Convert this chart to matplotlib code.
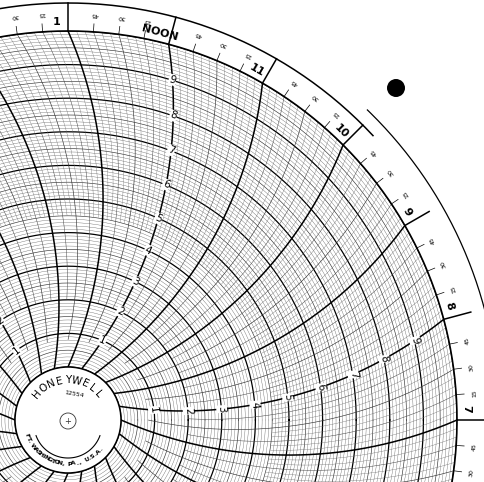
import numpy as np
import matplotlib.pyplot as plt
from matplotlib.path import Path
from matplotlib.patches import PathPatch

# ---- data ----
hour_labels = {7: '7', 8: '8', 9: '9', 10: '10', 11: '11', 12: 'NOON', 13: '1', 14: '2'}
quarter_labels = ['15', '30', '45']
value_labels = [1, 2, 3, 4, 5, 6, 7, 8, 9]
value_label_hours = [8, 12, 16, 20, 24]
hub_top_text = 'HONEYWELL'
hub_number = '12554'
hub_bottom_text = 'FT. WASHINGTON, PA., U.S.A.'

# ---- layout ----
CX, CY = 68, 420
R0, R = 53, 389
RA = 420.0

fig = plt.figure(figsize=(4.85, 4.82), dpi=100)
ax = fig.add_axes([0, 0, 1, 1])
ax.set_xlim(0, 485); ax.set_ylim(482, 0); ax.axis('off')

def rad(v):
    return R0 + (R - R0) * v / 10.0

def xy(r, phi_deg):
    p = np.radians(phi_deg)
    return CX + r * np.cos(p), CY - r * np.sin(p)

def arc_pts(theta):
    t = np.radians(theta)
    A = np.array([R0 * np.cos(t), R0 * np.sin(t)])
    P = np.array([R * np.cos(t), R * np.sin(t)])
    L = R - R0
    u = (P - A) / L
    n = np.array([-u[1], u[0]])
    C = (A + P) / 2 + n * np.sqrt(RA**2 - (L / 2)**2)
    a1 = np.arctan2(*(A - C)[::-1]); a2 = np.arctan2(*(P - C)[::-1])
    d = (a2 - a1 + np.pi) % (2 * np.pi) - np.pi
    s = np.linspace(0, 1, 300)
    ang = a1 + d * s
    return C[0] + RA * np.cos(ang), C[1] + RA * np.sin(ang)

def to_px(X, Y):
    return CX + X, CY - Y

# concentric circles
phis = np.linspace(0, 360, 721)
for k in range(0, 101):
    r = rad(k / 10)
    if k % 10 == 0:
        lw, c = 0.9, 'black'
    elif k % 5 == 0:
        lw, c = 0.45, '#333333'
    else:
        lw, c = 0.25, '#555555'
    x, y = xy(r, phis)
    ax.plot(x, y, color=c, lw=lw, zorder=2)

# time lines
for k in range(24 * 12):
    t = k / 12
    theta = (t - 7) * 15
    X, Y = arc_pts(theta)
    rr = np.hypot(X, Y)
    if k % 12 == 0:
        rs, lw, c = R0, 1.1, 'black'
    elif k % 6 == 0:
        rs, lw, c = rad(0.8), 0.45, '#333333'
    elif k % 3 == 0:
        rs, lw, c = rad(2.0), 0.35, '#444444'
    else:
        rs, lw, c = rad(4.5), 0.25, '#666666'
    m = rr >= rs
    px, py = to_px(X[m], Y[m])
    ax.plot(px, py, color=c, lw=lw, zorder=3)

# value labels on selected hour lines
for h in value_label_hours:
    theta = (h - 7) * 15
    X, Y = arc_pts(theta)
    rr = np.hypot(X, Y)
    for v in value_labels:
        i = np.argmin(np.abs(rr - rad(v)))
        px, py = to_px(X[i], Y[i])
        phi = np.degrees(np.arctan2(Y[i], X[i]))
        ax.text(px, py, str(v), fontsize=7.5, rotation=phi - 90, ha='center', va='center',
                bbox=dict(boxstyle='square,pad=0.05', fc='white', ec='none'), zorder=5)

# ring
x, y = xy(R, phis); ax.plot(x, y, color='black', lw=1.2, zorder=4)
pr = np.linspace(43, 200, 300)
x, y = xy(417, pr); ax.plot(x, y, color='black', lw=1.1, zorder=4)
pr = np.linspace(-10, 46, 200)
x, y = xy(431, pr); ax.plot(x, y, color='black', lw=0.9, zorder=4)

for k in range(24 * 4):
    t = k / 4
    theta = (t - 7) * 15
    if k % 4 == 0:
        x1, y1 = xy(R, theta); x2, y2 = xy(417, theta)
        ax.plot([x1, x2], [y1, y2], color='black', lw=1.1, zorder=4)
        h = int(round(t)) % 24
        if h in hour_labels:
            lx, ly = xy(398, theta + 1.6)
            ax.text(lx, ly, hour_labels[h], fontsize=8, fontweight='bold', rotation=theta - 90,
                    ha='center', va='center', zorder=6)
    else:
        x1, y1 = xy(R, theta); x2, y2 = xy(R + 8, theta)
        ax.plot([x1, x2], [y1, y2], color='black', lw=0.5, zorder=4)
        lx, ly = xy(407, theta)
        ax.text(lx, ly, quarter_labels[k % 4 - 1], fontsize=4.5, rotation=theta + 90,
                ha='center', va='center', zorder=6)

# hub
ax.add_patch(plt.Circle((CX, CY), R0, fc='white', ec='black', lw=1.1, zorder=7))
ax.add_patch(plt.Circle((CX, CY + 1), 8, fc='none', ec='#333333', lw=0.6, zorder=8))
ax.text(CX, CY + 1, '+', fontsize=6, ha='center', va='center', color='#333333', zorder=8)
pa = np.linspace(200, 340, 100)
x, y = xy(34, pa); ax.plot(x, y + 4, color='black', lw=0.8, zorder=8)
ax.text(CX + 6, CY - 26, hub_number, fontsize=4.5, ha='center', va='center', rotation=-10, zorder=8)

angs = np.linspace(140, 40, len(hub_top_text))
for ch, a in zip(hub_top_text, angs):
    x, y = xy(40, a)
    ax.text(x, y, ch, fontsize=7.5, rotation=a - 90, ha='center', va='center', zorder=8)
angs = np.linspace(200, 318, len(hub_bottom_text))
for ch, a in zip(hub_bottom_text, angs):
    x, y = xy(44, a)
    ax.text(x, y, ch, fontsize=4.5, fontweight='bold', rotation=a + 90, ha='center', va='center', zorder=8)

# white outside region mask
th = np.linspace(0, 2 * np.pi, 720)
ox = np.concatenate([[-100, 600, 600, -100, -100], CX + R * np.cos(th)])
oy = np.concatenate([[-100, -100, 600, 600, -100], CY - R * np.sin(th)])
codes = [Path.MOVETO] + [Path.LINETO] * 3 + [Path.CLOSEPOLY] + [Path.MOVETO] + [Path.LINETO] * 718 + [Path.CLOSEPOLY]
ax.add_patch(PathPatch(Path(np.column_stack([ox, oy]), codes), fc='white', ec='none', zorder=3.5))

ax.add_patch(plt.Circle((396, 88), 9, fc='black', ec='none', zorder=9))

fig.savefig('out.png', dpi=100)
